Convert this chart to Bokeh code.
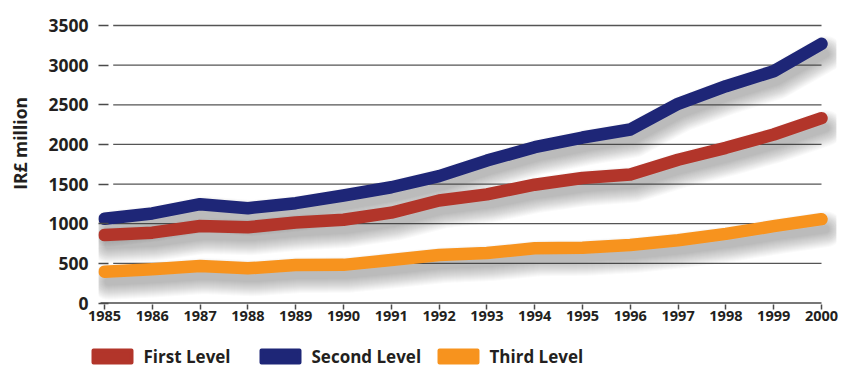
import numpy as np
from bokeh.plotting import figure
from bokeh.layouts import column, row
from bokeh.models import Range1d, FixedTicker
from bokeh.core.properties import value
from bokeh.embed import file_html
from bokeh.resources import INLINE

# ---- data ----
years = list(range(1985, 2001))
first_level = [857, 887, 971, 956, 1015, 1050, 1139, 1293, 1370, 1492, 1576, 1620, 1806, 1957, 2125, 2331]
second_level = [1062, 1129, 1246, 1196, 1259, 1356, 1460, 1600, 1796, 1965, 2087, 2188, 2512, 2734, 2923, 3268]
third_level = [395, 425, 467, 437, 479, 481, 542, 605, 630, 690, 696, 731, 792, 872, 969, 1057]
series_names = ["First Level", "Second Level", "Third Level"]
series_colors = ["#b2352a", "#1e2677", "#f7931e"]
y_ticks = [0, 500, 1000, 1500, 2000, 2500, 3000, 3500]
y_title = "IR£ million"

FONT = "Open Sans"
TXT = "#231f20"
AX = "#4a4a4a"

# ---- layout geometry ----
W, H = 843, 367
TITLE_W = 30
MAIN_H = 334
LEG_H = H - MAIN_H
LEFT, RIGHT, TOP, BOTTOM = 68, 7, 10, 30
main_w = W - TITLE_W
frame_w = main_w - LEFT - RIGHT
frame_h = MAIN_H - TOP - BOTTOM
px_per_year = 47.8
px_per_unit = 0.07929
x_start = years[0] - 6 / px_per_year
x_end = x_start + frame_w / px_per_year
y_start = -1.5 / px_per_unit
y_end = y_start + frame_h / px_per_unit


def bare(width, height, xr, yr):
    f = figure(width=width, height=height, output_backend="svg", toolbar_location=None,
               x_range=xr, y_range=yr, min_border=0)
    f.axis.visible = False
    f.grid.visible = False
    f.outline_line_color = None
    f.background_fill_color = "white"
    f.border_fill_color = "white"
    return f


p = figure(width=main_w, height=MAIN_H, output_backend="svg", toolbar_location=None,
           x_range=Range1d(x_start, x_end), y_range=Range1d(y_start, y_end),
           min_border_left=LEFT, min_border_right=RIGHT,
           min_border_top=TOP, min_border_bottom=BOTTOM)
p.outline_line_color = None
p.grid.visible = False
p.background_fill_color = "white"
p.border_fill_color = "white"

# gridlines (start a bit right of the tick dashes)
gx0 = years[0] + 8.7 / px_per_year
gl = y_ticks[1:]
p.segment(x0=[gx0] * len(gl), y0=gl, x1=[years[-1]] * len(gl), y1=gl,
          line_color="#555555", line_width=1.3)
# x axis baseline
p.segment(x0=[years[0] - 4 / px_per_year], y0=[0], x1=[years[-1]], y1=[0],
          line_color=AX, line_width=1.5)

# soft drop shadows (many faint layers approximate a blur)
dx = 4 / px_per_year
dy = -10 / px_per_unit
allseries = [first_level, second_level, third_level]
xs = np.array(years, dtype=float)
for vals in allseries:
    ys = np.array(vals, dtype=float)
    for w in range(8, 38, 2):
        p.line(xs + dx, ys + dy, line_width=w, line_color="#3a3a3a", line_alpha=0.026,
               line_cap="round", line_join="round")

# main lines
for vals, c in zip([third_level, first_level, second_level],
                   [series_colors[2], series_colors[0], series_colors[1]]):
    p.line(years, vals, line_width=12.5, line_color=c, line_cap="round", line_join="round")

# axes
xa = p.xaxis[0]
xa.ticker = FixedTicker(ticks=years)
xa.axis_line_color = None
xa.major_tick_in = 0
xa.major_tick_out = 5
xa.major_tick_line_color = AX
xa.major_tick_line_width = 1.5
xa.minor_tick_line_color = None
xa.major_label_standoff = 1
xa.major_label_text_font = FONT
xa.major_label_text_font_style = "bold"
xa.major_label_text_font_size = "14.5px"
xa.major_label_text_color = TXT

ya = p.yaxis[0]
ya.ticker = FixedTicker(ticks=y_ticks)
ya.axis_line_color = None
ya.major_tick_in = 10
ya.major_tick_out = 0
ya.major_tick_line_color = AX
ya.major_tick_line_width = 1.5
ya.minor_tick_line_color = None
ya.major_label_standoff = 10
ya.major_label_text_font = FONT
ya.major_label_text_font_style = "bold"
ya.major_label_text_font_size = "17.5px"
ya.major_label_text_color = TXT

# y title strip (pixel coordinates, y downwards)
t = bare(TITLE_W, MAIN_H, Range1d(0, TITLE_W), Range1d(MAIN_H, 0))
t.text(x=[19], y=[151], text=[y_title], angle=np.pi / 2, text_align="center",
       text_baseline="middle", text_font=value(FONT), text_font_style="bold",
       text_font_size="17.5px", text_color=TXT)

# legend strip (pixel coordinates, y downwards)
SWATCH_CX = [112, 280, 458]
LABEL_X = [143, 311, 489]
LEG_Y = 22
lg = bare(W, LEG_H, Range1d(0, W), Range1d(LEG_H, 0))
lg.rect(x=SWATCH_CX, y=[LEG_Y] * 3, width=38, height=12, fill_color=series_colors,
        line_color=series_colors, line_width=4, line_join="round")
lg.text(x=LABEL_X, y=[LEG_Y] * 3, text=series_names, text_align="left",
        text_baseline="middle", text_font=value(FONT), text_font_style="bold",
        text_font_size="17px", text_color=TXT)

layout = column(row(t, p, spacing=0), lg, spacing=0)
open("out.html", "w").write(file_html(layout, INLINE))
